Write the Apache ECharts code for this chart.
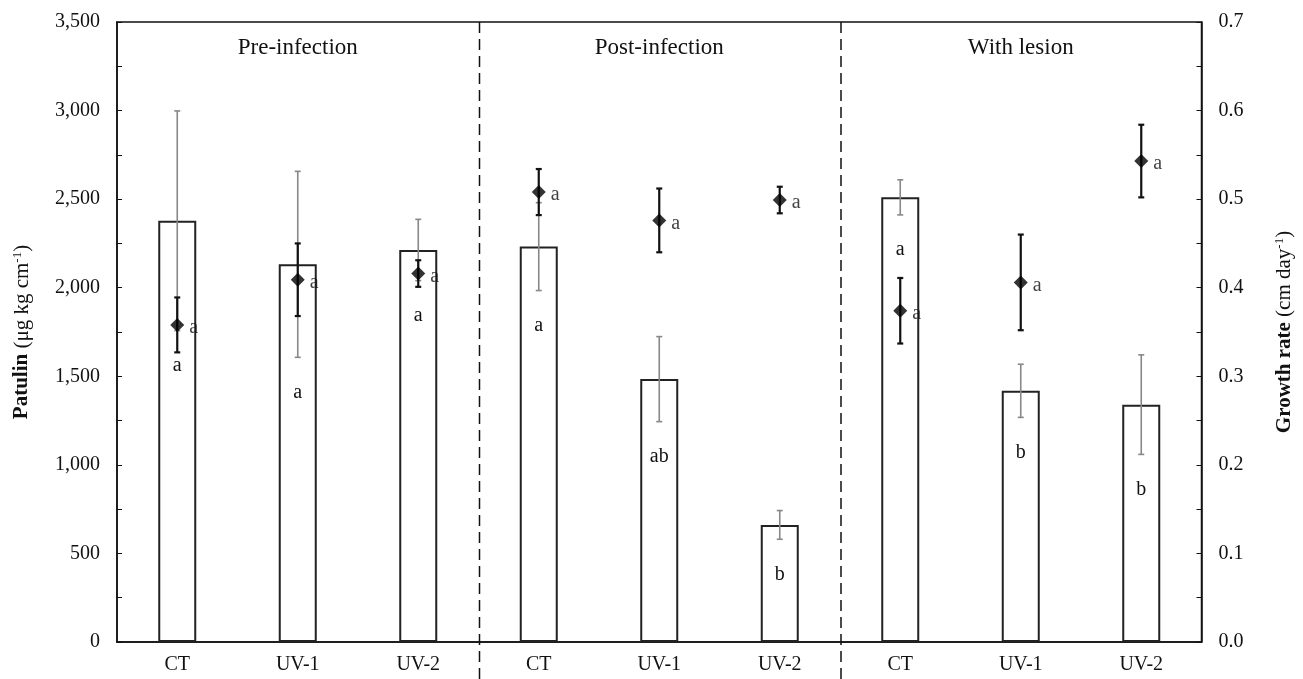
<!DOCTYPE html>
<html>
<head>
<meta charset="utf-8">
<script src="https://cdn.jsdelivr.net/npm/echarts@6/dist/echarts.min.js"></script>
<style>
  html, body { margin: 0; padding: 0; background: #fff; }
  #chart { width: 1303px; height: 679px; }
</style>
</head>
<body>
<div id="chart"></div>
<script>
  // data
  const categories = ['CT', 'UV-1', 'UV-2', 'CT', 'UV-1', 'UV-2', 'CT', 'UV-1', 'UV-2']
  const groups = ['Pre-infection', 'Post-infection', 'With lesion']
  const patulin = [2378, 2132, 2213, 2232, 1484, 661, 2510, 1418, 1340]
  const patulinErr = [620, 525, 173, 248, 240, 81, 99, 150, 281]
  const patulinLetters = ['a', 'a', 'a', 'a', 'ab', 'b', 'a', 'b', 'b']
  const growth = [0.358, 0.409, 0.416, 0.508, 0.476, 0.499, 0.374, 0.406, 0.543]
  const growthErr = [0.031, 0.041, 0.015, 0.026, 0.036, 0.015, 0.037, 0.054, 0.041]
  const growthLetters = ['a', 'a', 'a', 'a', 'a', 'a', 'a', 'a', 'a']

  const FONT = '"Liberation Serif", "Times New Roman", serif'
  const chart = echarts.init(document.getElementById('chart'))

  function errorBar (color, width, letters) {
    return function (params, api) {
      const i = api.value(0)
      const hi = api.coord([i, api.value(2)])
      const lo = api.coord([i, api.value(1)])
      const cap = 3
      const style = { stroke: color, lineWidth: width }
      const children = [
        { type: 'line', shape: { x1: hi[0], y1: hi[1], x2: lo[0], y2: lo[1] }, style },
        { type: 'line', shape: { x1: hi[0] - cap, y1: hi[1], x2: hi[0] + cap, y2: hi[1] }, style },
        { type: 'line', shape: { x1: lo[0] - cap, y1: lo[1], x2: lo[0] + cap, y2: lo[1] }, style }
      ]
      if (letters) {
        children.push({
          type: 'text',
          style: {
            x: lo[0], y: lo[1] + 35, text: letters[params.dataIndex],
            align: 'center', verticalAlign: 'middle',
            font: '20px ' + FONT, fill: '#111'
          }
        })
      }
      return { type: 'group', children }
    }
  }

  function groupDecor (params, api) {
    const k = params.dataIndex
    const c = api.coord([api.value(0), 0])
    const band = api.size([1, 0])[0]
    const sys = params.coordSys
    const children = [{
      type: 'text',
      style: {
        x: c[0], y: sys.y + 26, text: groups[k],
        align: 'center', verticalAlign: 'middle',
        font: '23px ' + FONT, fill: '#111'
      }
    }]
    if (k < groups.length - 1) {
      const x = c[0] + band * 1.5 + 1
      children.push({
        type: 'line',
        shape: { x1: x, y1: sys.y, x2: x, y2: api.getHeight() },
        style: { stroke: '#111', lineWidth: 1.5, lineDash: [11, 6] }
      })
    }
    return { type: 'group', children }
  }

  const nameRich = {
    b: { fontWeight: 'bold', fontFamily: FONT, fontSize: 21, color: '#111' },
    s: { fontFamily: FONT, fontSize: 13, color: '#111', verticalAlign: 'top', padding: [0, 0, 9, 0] }
  }

  chart.setOption({
    backgroundColor: '#fff',
    animation: false,
    grid: {
      left: 117, right: 91, top: 22, bottom: 37,
      show: true, borderColor: '#111', borderWidth: 1.5
    },
    xAxis: {
      type: 'category',
      data: categories,
      axisLine: { lineStyle: { color: '#111', width: 1.5 } },
      axisTick: { show: false },
      axisLabel: { color: '#111', fontFamily: FONT, fontSize: 20, margin: 13 }
    },
    yAxis: [{
      type: 'value',
      min: 0, max: 3500, interval: 250,
      name: '{b|Patulin} (μg kg cm{s|-1})',
      nameLocation: 'middle',
      nameRotate: 90,
      nameGap: 84,
      nameTextStyle: { color: '#111', fontFamily: FONT, fontSize: 21, rich: nameRich },
      axisLine: { show: true, lineStyle: { color: '#111', width: 1.5 } },
      axisTick: { show: true, inside: true, length: 5, lineStyle: { color: '#111' } },
      splitLine: { show: false },
      axisLabel: {
        color: '#111', fontFamily: FONT, fontSize: 20, margin: 17,
        formatter: v => v % 500 === 0 ? v.toLocaleString('en-US') : ''
      }
    }, {
      type: 'value',
      min: 0, max: 0.7, interval: 0.05,
      name: '{b|Growth rate} (cm day{s|-1})',
      nameLocation: 'middle',
      nameRotate: 90,
      nameGap: 72,
      nameTextStyle: { color: '#111', fontFamily: FONT, fontSize: 21, rich: nameRich },
      axisLine: { show: true, lineStyle: { color: '#111', width: 1.5 } },
      axisTick: { show: true, inside: true, length: 5, lineStyle: { color: '#111' } },
      splitLine: { show: false },
      axisLabel: {
        color: '#111', fontFamily: FONT, fontSize: 20, margin: 17,
        formatter: v => Math.round(v * 100) % 10 === 0 ? v.toFixed(1) : ''
      }
    }],
    series: [{
      type: 'bar',
      data: patulin,
      barWidth: 38,
      itemStyle: { color: '#fff', borderColor: '#222', borderWidth: 2 }
    }, {
      type: 'custom',
      yAxisIndex: 0,
      renderItem: errorBar('#888', 1.6, patulinLetters),
      data: patulin.map((v, i) => [i, v - patulinErr[i], v + patulinErr[i]]),
      z: 3
    }, {
      type: 'custom',
      yAxisIndex: 1,
      renderItem: errorBar('#111', 2.2, null),
      data: growth.map((v, i) => [i, v - growthErr[i], v + growthErr[i]]),
      z: 4
    }, {
      type: 'scatter',
      yAxisIndex: 1,
      data: growth.map((v, i) => [i, v]),
      symbol: 'diamond',
      symbolSize: [14, 14],
      itemStyle: { color: '#000' },
      label: {
        show: true, position: 'right', distance: 5, offset: [0, 3],
        color: '#111', fontFamily: FONT, fontSize: 20,
        formatter: p => growthLetters[p.dataIndex]
      },
      z: 5
    }, {
      type: 'custom',
      yAxisIndex: 0,
      clip: false,
      renderItem: groupDecor,
      data: groups.map((g, k) => [k * 3 + 1, 0]),
      z: 6
    }]
  })
</script>
</body>
</html>
